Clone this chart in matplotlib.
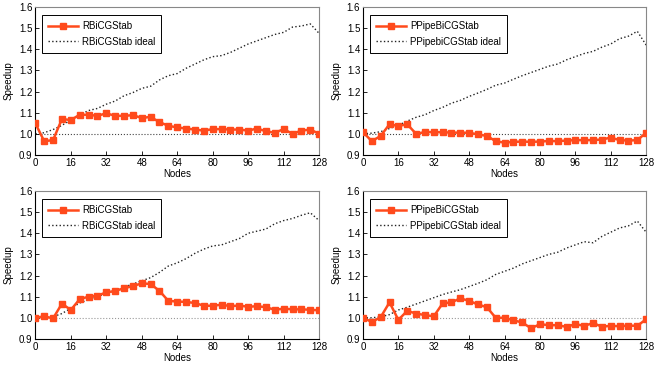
import numpy as np
import matplotlib
matplotlib.use('Agg')
import matplotlib.pyplot as plt

plt.rcParams['font.family'] = ['Liberation Sans', 'DejaVu Sans']
plt.rcParams['font.size'] = 7

nodes = list(range(0, 129, 4))

rbicg_a = [1.05, 0.965, 0.97, 1.07, 1.065, 1.09, 1.09, 1.085, 1.097, 1.085, 1.085, 1.088, 1.075,
           1.08, 1.055, 1.038, 1.03, 1.025, 1.02, 1.015, 1.022, 1.022, 1.02, 1.02, 1.015, 1.025,
           1.012, 1.005, 1.022, 1.0, 1.015, 1.02, 1.0]
rbicg_a_ideal = [1.0, 1.005, 1.02, 1.04, 1.065, 1.09, 1.11, 1.12, 1.14, 1.155, 1.18, 1.195, 1.215,
                 1.225, 1.255, 1.275, 1.285, 1.31, 1.33, 1.35, 1.365, 1.37, 1.385, 1.405, 1.425,
                 1.44, 1.455, 1.47, 1.48, 1.505, 1.51, 1.52, 1.475]

ppipe_a = [1.008, 0.965, 0.99, 1.045, 1.037, 1.045, 1.0, 1.008, 1.008, 1.007, 1.006, 1.005, 1.005,
           0.997, 0.99, 0.965, 0.958, 0.962, 0.963, 0.962, 0.963, 0.966, 0.965, 0.968, 0.97, 0.97,
           0.97, 0.973, 0.982, 0.97, 0.968, 0.97, 1.005]
ppipe_a_ideal = [1.0, 1.003, 1.01, 1.025, 1.04, 1.06, 1.078, 1.09, 1.11, 1.125, 1.145, 1.158, 1.177,
                 1.193, 1.21, 1.23, 1.24, 1.258, 1.275, 1.29, 1.305, 1.32, 1.33, 1.35, 1.365, 1.38,
                 1.39, 1.41, 1.425, 1.45, 1.462, 1.485, 1.42]

rbicg_b = [1.0, 1.007, 0.997, 1.067, 1.037, 1.088, 1.1, 1.105, 1.12, 1.127, 1.14, 1.15, 1.163,
           1.16, 1.127, 1.08, 1.077, 1.075, 1.07, 1.057, 1.057, 1.062, 1.055, 1.058, 1.052, 1.055,
           1.05, 1.038, 1.043, 1.04, 1.04, 1.038, 1.035]
rbicg_b_ideal = [1.0, 1.0, 1.005, 1.02, 1.045, 1.07, 1.085, 1.1, 1.115, 1.13, 1.145, 1.16, 1.175,
                 1.19, 1.215, 1.245, 1.26, 1.28, 1.305, 1.325, 1.34, 1.345, 1.36, 1.375, 1.4, 1.41,
                 1.42, 1.445, 1.46, 1.47, 1.485, 1.497, 1.46]

ppipe_b = [1.0, 0.98, 1.003, 1.073, 0.99, 1.033, 1.02, 1.013, 1.007, 1.068, 1.073, 1.092, 1.08,
           1.063, 1.05, 1.0, 1.0, 0.988, 0.978, 0.95, 0.97, 0.965, 0.965, 0.957, 0.97, 0.962,
           0.975, 0.958, 0.962, 0.96, 0.963, 0.962, 0.993]
ppipe_b_ideal = [1.0, 1.0, 1.005, 1.015, 1.037, 1.05, 1.065, 1.08, 1.095, 1.11, 1.122, 1.133, 1.148,
                 1.163, 1.18, 1.205, 1.22, 1.235, 1.255, 1.27, 1.285, 1.3, 1.31, 1.33, 1.345, 1.36,
                 1.355, 1.385, 1.405, 1.425, 1.435, 1.458, 1.405]

panels = [
    ([0.054, 0.579, 0.434, 0.402], rbicg_a, rbicg_a_ideal, 'RBiCGStab', 'RBiCGStab ideal', '#444444'),
    ([0.555, 0.579, 0.433, 0.402], ppipe_a, ppipe_a_ideal, 'PPipeBiCGStab', 'PPipebiCGStab ideal', '#444444'),
    ([0.054, 0.079, 0.434, 0.402], rbicg_b, rbicg_b_ideal, 'RBiCGStab', 'RBiCGStab ideal', '#999999'),
    ([0.555, 0.079, 0.433, 0.402], ppipe_b, ppipe_b_ideal, 'PPipeBiCGStab', 'PPipebiCGStab ideal', '#999999'),
]

fig = plt.figure(figsize=(6.54, 3.68), dpi=100)

for rect, vals, ideal, lab, lab_ideal, base_col in panels:
    ax = fig.add_axes(rect)
    ax.axhline(1.0, color=base_col, lw=0.8, ls=':', zorder=1)
    ax.plot(nodes, vals, color='#ff4a1c', lw=1.8, marker='s', ms=4.2, label=lab, zorder=3)
    ax.plot(nodes, ideal, color='#222222', lw=1.0, ls=':', label=lab_ideal, zorder=2)
    ax.set_xlim(0, 128)
    ax.set_ylim(0.9, 1.6)
    ax.set_xticks(np.arange(0, 129, 16))
    ax.set_yticks(np.arange(0.9, 1.61, 0.1))
    ax.set_yticklabels(['%.1f' % v for v in np.arange(0.9, 1.61, 0.1)])
    ax.tick_params(direction='in', length=3, width=0.6, pad=2)
    ax.spines['top'].set_color('#888888')
    ax.spines['right'].set_color('#888888')
    for s in ['left', 'bottom']:
        ax.spines[s].set_linewidth(0.8)
    ax.set_xlabel('Nodes', labelpad=1)
    ax.set_ylabel('Speedup', labelpad=4)
    leg = ax.legend(loc='upper left', bbox_to_anchor=(0.025, 0.945), fancybox=False,
                    edgecolor='black', framealpha=1, handlelength=3.1, handletextpad=0.4,
                    borderpad=0.6, labelspacing=0.6, borderaxespad=0)
    leg.get_frame().set_linewidth(0.7)

fig.savefig('out.png', dpi=100)
